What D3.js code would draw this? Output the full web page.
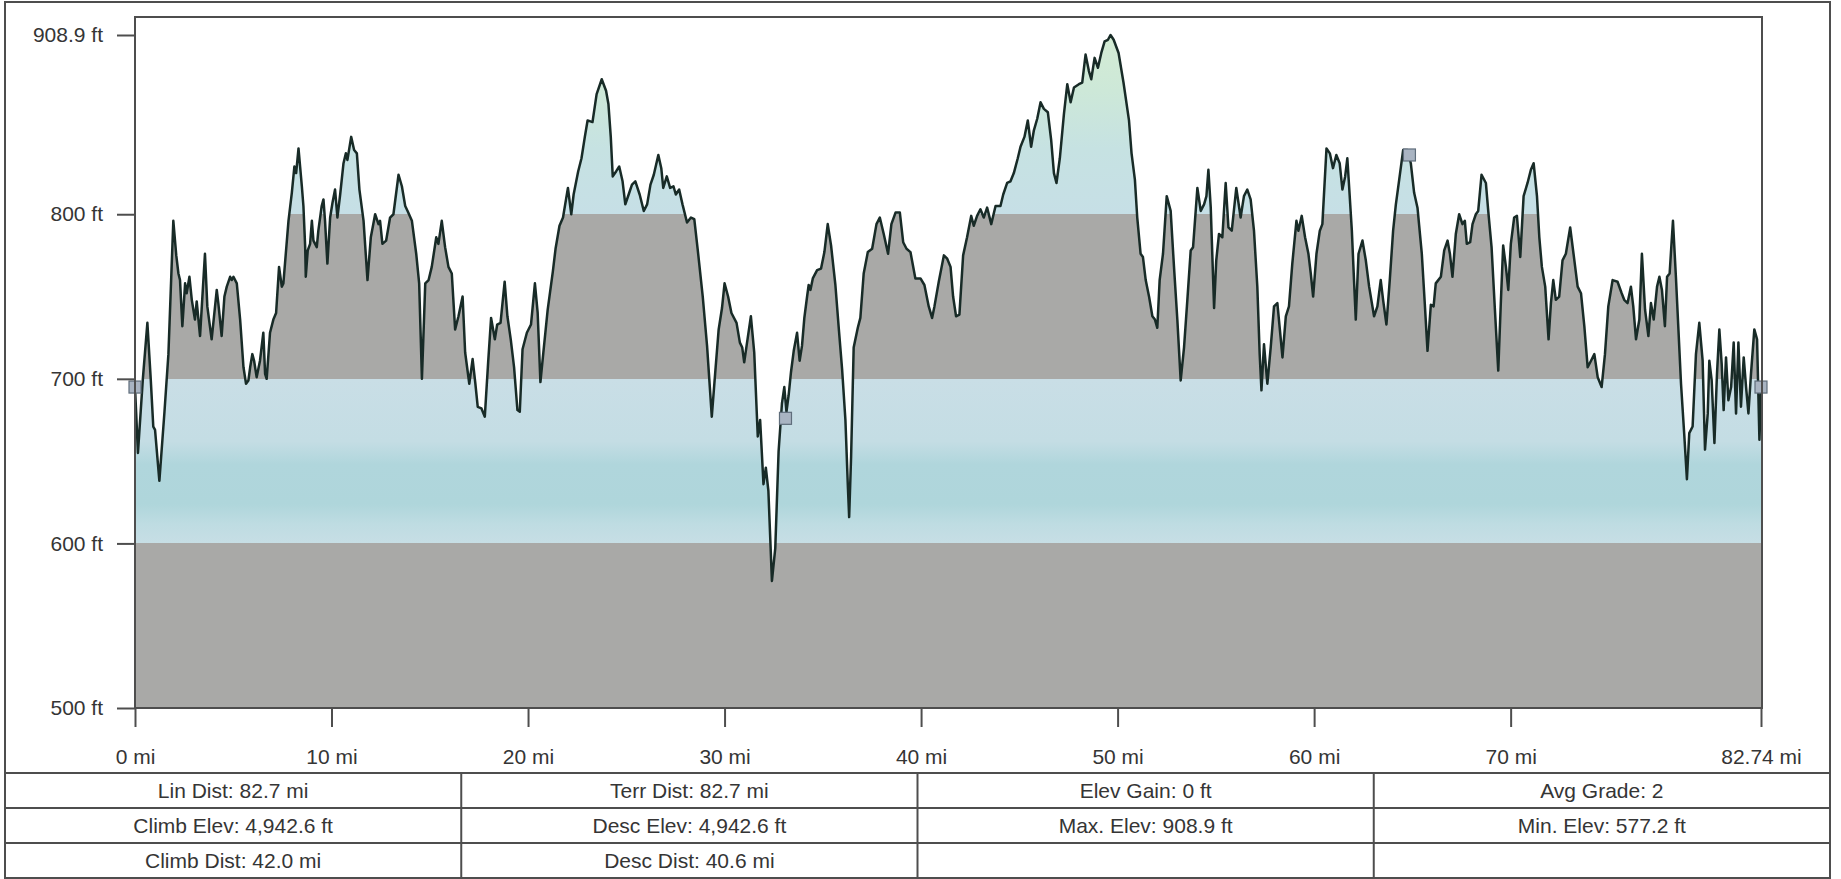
<!DOCTYPE html>
<html>
<head>
<meta charset="utf-8">
<script src="https://cdn.jsdelivr.net/npm/d3@7"></script>
<style>
  body { margin: 0; background: #fff; }
  svg text { font-family: "Liberation Sans", Arial, sans-serif; font-size: 21px; fill: #353535; }
</style>
</head>
<body>
<div id="profile"></div>
<script>
// elevation profile, distance in miles / elevation in feet
const distMi = [
  0.00, 0.15, 0.40, 0.63, 0.80, 0.93, 1.02, 1.24, 1.50, 1.70, 1.95, 2.10, 2.21, 2.29, 2.41, 2.55, 2.63, 2.77, 2.89, 3.05,
  3.14, 3.31, 3.39, 3.56, 3.68, 3.90, 4.16, 4.24, 4.41, 4.55, 4.67, 4.84, 4.92, 5.01, 5.18, 5.35, 5.52, 5.65, 5.77, 5.86,
  5.97, 6.06, 6.19, 6.36, 6.53, 6.62, 6.70, 6.87, 7.04, 7.18, 7.33, 7.47, 7.55, 7.81, 7.98, 8.11, 8.20, 8.32, 8.49, 8.57,
  8.66, 8.69, 8.79, 8.91, 9.00, 9.08, 9.25, 9.33, 9.50, 9.59, 9.67, 9.79, 9.93, 10.05, 10.18, 10.30, 10.44, 10.61, 10.73, 10.81,
  11.00, 11.15, 11.29, 11.42, 11.63, 11.83, 12.00, 12.22, 12.39, 12.47, 12.59, 12.78, 12.98, 13.15, 13.41, 13.58, 13.75, 13.87, 14.09, 14.31,
  14.46, 14.60, 14.77, 14.94, 15.10, 15.33, 15.44, 15.61, 15.78, 15.95, 16.12, 16.29, 16.46, 16.67, 16.80, 17.01, 17.18, 17.32, 17.44, 17.63,
  17.80, 17.97, 18.12, 18.31, 18.43, 18.60, 18.81, 18.95, 19.12, 19.29, 19.46, 19.58, 19.72, 19.94, 20.15, 20.35, 20.49, 20.63, 20.78, 21.00,
  21.26, 21.40, 21.60, 21.78, 22.03, 22.20, 22.32, 22.55, 22.72, 22.89, 23.03, 23.28, 23.49, 23.75, 23.97, 24.09, 24.21, 24.31, 24.48, 24.64,
  24.81, 24.95, 25.12, 25.29, 25.46, 25.68, 25.89, 26.06, 26.23, 26.40, 26.63, 26.78, 26.88, 27.06, 27.23, 27.40, 27.52, 27.69, 27.86, 28.09,
  28.29, 28.46, 28.63, 28.89, 29.11, 29.35, 29.52, 29.70, 29.87, 30.00, 30.18, 30.35, 30.61, 30.78, 30.90, 31.00, 31.12, 31.34, 31.51, 31.69,
  31.81, 31.98, 32.10, 32.23, 32.41, 32.58, 32.75, 32.92, 33.04, 33.15, 33.26, 33.38, 33.52, 33.69, 33.82, 33.94, 34.06, 34.20, 34.28, 34.37,
  34.49, 34.71, 34.91, 35.08, 35.25, 35.42, 35.64, 35.81, 35.98, 36.15, 36.27, 36.34, 36.44, 36.57, 36.78, 36.91, 37.08, 37.29, 37.51, 37.73,
  37.90, 38.10, 38.32, 38.49, 38.70, 38.92, 39.09, 39.26, 39.46, 39.71, 39.97, 40.17, 40.39, 40.56, 40.68, 40.90, 41.16, 41.33, 41.50, 41.63,
  41.78, 41.95, 42.14, 42.34, 42.55, 42.68, 42.85, 43.02, 43.19, 43.36, 43.57, 43.79, 44.04, 44.18, 44.38, 44.55, 44.72, 44.92, 45.06, 45.26,
  45.43, 45.60, 45.74, 45.91, 46.08, 46.25, 46.45, 46.62, 46.76, 46.89, 47.06, 47.27, 47.44, 47.61, 47.78, 48.03, 48.20, 48.37, 48.54, 48.66,
  48.83, 49.00, 49.17, 49.34, 49.51, 49.64, 49.80, 50.05, 50.30, 50.58, 50.71, 50.88, 51.00, 51.17, 51.29, 51.43, 51.60, 51.77, 51.90, 52.02,
  52.14, 52.31, 52.50, 52.70, 52.87, 53.04, 53.21, 53.38, 53.55, 53.72, 53.84, 54.06, 54.23, 54.40, 54.52, 54.62, 54.74, 54.91, 55.02, 55.16,
  55.33, 55.50, 55.64, 55.81, 56.04, 56.26, 56.43, 56.60, 56.77, 56.94, 57.11, 57.23, 57.32, 57.45, 57.62, 57.79, 57.96, 58.13, 58.39, 58.56,
  58.72, 58.89, 59.10, 59.20, 59.37, 59.54, 59.71, 59.83, 59.95, 60.12, 60.29, 60.42, 60.63, 60.80, 60.96, 61.13, 61.30, 61.44, 61.58, 61.69,
  61.78, 61.92, 62.03, 62.12, 62.26, 62.46, 62.63, 62.80, 63.05, 63.22, 63.39, 63.51, 63.68, 63.85, 64.02, 64.16, 64.33, 64.53, 64.75, 64.92,
  65.09, 65.26, 65.48, 65.63, 65.77, 65.94, 66.08, 66.19, 66.45, 66.62, 66.79, 66.91, 67.04, 67.21, 67.38, 67.55, 67.67, 67.77, 67.94, 68.06,
  68.23, 68.35, 68.52, 68.74, 68.86, 69.03, 69.20, 69.37, 69.50, 69.62, 69.76, 69.88, 70.01, 70.18, 70.32, 70.49, 70.66, 70.86, 71.03, 71.17,
  71.34, 71.46, 71.59, 71.76, 71.93, 72.05, 72.17, 72.30, 72.47, 72.64, 72.81, 73.03, 73.20, 73.41, 73.58, 73.75, 73.92, 74.09, 74.26, 74.43,
  74.63, 74.80, 74.97, 75.19, 75.44, 75.65, 75.78, 75.95, 76.12, 76.24, 76.38, 76.55, 76.68, 76.84, 77.01, 77.14, 77.28, 77.45, 77.57, 77.70,
  77.85, 77.96, 78.09, 78.26, 78.41, 78.53, 78.67, 78.84, 78.97, 79.09, 79.26, 79.43, 79.60, 79.77, 79.89, 80.03, 80.11, 80.23, 80.37, 80.50,
  80.62, 80.74, 80.84, 80.96, 81.08, 81.22, 81.35, 81.47, 81.59, 81.72, 81.86, 81.98, 82.10, 82.23, 82.40, 82.54, 82.66, 82.74
];
const elevFt = [
  695, 655, 700, 734, 700, 671, 669, 638, 680, 715, 796, 775, 764, 760, 732, 758, 752, 762, 748, 736,
  747, 726, 742, 776, 744, 724, 754, 746, 726, 750, 756, 762, 760, 762, 758, 736, 707, 697, 699, 707,
  715, 711, 701, 711, 728, 703, 700, 728, 736, 740, 768, 756, 758, 796, 813, 829, 825, 840, 817, 805,
  780, 762, 778, 782, 796, 784, 780, 790, 805, 809, 796, 770, 798, 807, 815, 798, 812, 831, 837, 833,
  847, 839, 837, 815, 796, 760, 786, 800, 794, 796, 782, 784, 798, 800, 824, 817, 805, 802, 796, 776,
  758, 700, 758, 760, 768, 786, 782, 796, 780, 768, 764, 730, 738, 750, 716, 697, 712, 697, 683, 682,
  677, 710, 737, 724, 733, 734, 759, 738, 724, 707, 681, 680, 718, 728, 733, 758, 740, 698, 716, 742,
  765, 779, 793, 798, 816, 800, 812, 826, 834, 847, 857, 856, 873, 882, 875, 867, 847, 823, 826, 829,
  820, 806, 812, 818, 820, 812, 802, 806, 818, 824, 836, 828, 816, 823, 816, 817, 812, 815, 806, 795,
  798, 797, 779, 750, 720, 677, 703, 730, 743, 758, 750, 740, 734, 722, 719, 710, 720, 738, 716, 665,
  675, 636, 646, 632, 577.2, 597, 656, 685, 695, 680, 690, 704, 717, 728, 711, 720, 737, 750, 757, 754,
  761, 766, 767, 777, 794, 781, 757, 731, 706, 675, 636, 616, 653, 719, 731, 737, 764, 777, 779, 794,
  798, 788, 776, 794, 801, 801, 783, 779, 777, 761, 761, 757, 744, 737, 744, 759, 775, 773, 768, 750,
  738, 739, 775, 786, 799, 793, 799, 803, 798, 804, 794, 805, 805, 812, 819, 820, 825, 834, 841, 847,
  857, 841, 851, 858, 868, 864, 862, 845, 825, 819, 834, 861, 879, 868, 877, 879, 880, 897, 887, 882,
  895, 889, 898, 905, 906, 908.9, 906, 898, 880, 857, 837, 821, 798, 776, 774, 760, 750, 738, 736, 731,
  760, 776, 811, 802, 768, 736, 699, 719, 748, 778, 780, 816, 802, 806, 811, 827, 804, 743, 772, 788,
  786, 819, 792, 790, 816, 798, 811, 815, 809, 790, 756, 715, 693, 721, 697, 719, 744, 746, 713, 738,
  744, 770, 796, 790, 799, 786, 776, 764, 750, 776, 790, 794, 840, 837, 828, 836, 831, 815, 823, 834,
  817, 790, 760, 736, 776, 784, 772, 756, 738, 744, 760, 748, 733, 760, 790, 806, 821, 839, 839, 831,
  813, 804, 776, 746, 717, 745, 744, 758, 762, 778, 784, 776, 762, 788, 800, 794, 796, 782, 783, 794,
  800, 802, 824, 819, 802, 780, 742, 705, 746, 781, 768, 754, 782, 798, 799, 774, 811, 819, 827, 831,
  811, 786, 768, 756, 724, 746, 760, 748, 750, 772, 776, 792, 776, 756, 752, 732, 707, 711, 715, 701,
  695, 715, 744, 760, 759, 752, 748, 746, 756, 744, 724, 736, 776, 742, 726, 746, 736, 756, 762, 754,
  732, 762, 764, 796, 762, 732, 697, 665, 639, 667, 671, 715, 734, 711, 657, 679, 711, 699, 661, 703,
  730, 709, 681, 713, 687, 695, 722, 679, 722, 683, 713, 695, 679, 703, 730, 724, 663, 692
];

const xTicks = [0, 10, 20, 30, 40, 50, 60, 70, 82.74];
const xTickLabels = ["0 mi", "10 mi", "20 mi", "30 mi", "40 mi", "50 mi", "60 mi", "70 mi", "82.74 mi"];
const yTicks = [500, 600, 700, 800, 908.9];
const yTickLabels = ["500 ft", "600 ft", "700 ft", "800 ft", "908.9 ft"];

// waypoint markers
const waypointMi = [0, 33.1, 64.85, 82.74];
const waypointFt = [695, 676, 836, 695];

// summary table below the chart
const statRows = [
  ["Lin Dist: 82.7 mi", "Terr Dist: 82.7 mi", "Elev Gain: 0 ft", "Avg Grade: 2"],
  ["Climb Elev: 4,942.6 ft", "Desc Elev: 4,942.6 ft", "Max. Elev: 908.9 ft", "Min. Elev: 577.2 ft"],
  ["Climb Dist: 42.0 mi", "Desc Dist: 40.6 mi", "", ""]
];

const W = 1841, H = 879;
const frame = {left: 5, top: 2, right: 1830, bottom: 878};
const plot = {left: 135, top: 17, right: 1762, bottom: 708};
const tableTop = 773, rowH = 35;

const svg = d3.select("#profile").append("svg")
    .attr("width", W).attr("height", H);

const x = d3.scaleLinear().domain([0, 82.74]).range([135, 1761]);
const y = d3.scaleLinear().domain([500, 908.9]).range([708, 35]);

const pts = distMi.map((d, i) => [d, elevFt[i]]);

// band colours by elevation (gray / blue alternating)
const bandStops = [
  [500, "#a9a9a7"], [600, "#a9a9a7"],
  [600, "#c7dee5"], [612, "#bedce2"], [624, "#afd6db"], [648, "#b0d6dc"], [662, "#c4dde4"], [700, "#c9dee6"],
  [700, "#a9a9a7"], [800, "#a9a9a7"],
  [800, "#c6dfe6"], [840, "#c6e2e2"], [875, "#cde8d8"], [920, "#d6edd2"]
];
const grad = svg.append("defs").append("linearGradient")
    .attr("id", "bands")
    .attr("gradientUnits", "userSpaceOnUse")
    .attr("x1", 0).attr("x2", 0)
    .attr("y1", y(500)).attr("y2", y(920));
grad.selectAll("stop").data(bandStops).enter().append("stop")
    .attr("offset", d => (d[0] - 500) / 420)
    .attr("stop-color", d => d[1]);

// filled profile
svg.append("path")
    .datum(pts)
    .attr("fill", "url(#bands)")
    .attr("d", d3.area().x(d => x(d[0])).y0(y(500)).y1(d => y(d[1])));

svg.append("path")
    .datum(pts)
    .attr("fill", "none")
    .attr("stroke", "#182b27")
    .attr("stroke-width", 2.5)
    .attr("stroke-linejoin", "round")
    .attr("d", d3.line().x(d => x(d[0])).y(d => y(d[1])));

// waypoints
svg.selectAll(".wp")
    .data(waypointMi)
    .enter().append("rect")
        .attr("x", (d) => x(d) - 6)
        .attr("y", (d, i) => y(waypointFt[i]) - 6)
        .attr("width", 12).attr("height", 12)
        .attr("fill", "#a9b4c2").attr("stroke", "#5f6d7b").attr("stroke-width", 1.2);

// plot frame
svg.append("rect")
    .attr("x", plot.left).attr("y", plot.top)
    .attr("width", plot.right - plot.left).attr("height", plot.bottom - plot.top)
    .attr("fill", "none").attr("stroke", "#4e4e4e").attr("stroke-width", 2);

// y axis
const yAxis = svg.append("g")
    .attr("transform", `translate(${plot.left},0)`)
    .call(d3.axisLeft(y).tickValues(yTicks).tickSize(18).tickPadding(14)
        .tickFormat((d, i) => yTickLabels[i]));
yAxis.select(".domain").remove();
yAxis.selectAll("line").attr("stroke", "#4e4e4e").attr("stroke-width", 2);
yAxis.selectAll("text").attr("font-size", null).attr("font-family", null).attr("fill", null);

// x axis
const xAxis = svg.append("g")
    .attr("transform", `translate(0,${plot.bottom})`)
    .call(d3.axisBottom(x).tickValues(xTicks).tickSize(19).tickPadding(22)
        .tickFormat((d, i) => xTickLabels[i]));
xAxis.select(".domain").remove();
xAxis.selectAll("line").attr("stroke", "#4e4e4e").attr("stroke-width", 2);
xAxis.selectAll("text").attr("font-size", null).attr("font-family", null).attr("fill", null);

// outer frame and table grid
const grid = svg.append("g").attr("stroke", "#4e4e4e").attr("stroke-width", 2);
grid.append("rect")
    .attr("x", frame.left).attr("y", frame.top)
    .attr("width", frame.right - frame.left).attr("height", frame.bottom - frame.top)
    .attr("fill", "none");

const colW = (frame.right - frame.left) / 4;
d3.range(statRows.length).forEach(r => {
    grid.append("line")
        .attr("x1", frame.left).attr("x2", frame.right)
        .attr("y1", tableTop + r * rowH).attr("y2", tableTop + r * rowH);
});
d3.range(1, 4).forEach(c => {
    grid.append("line")
        .attr("x1", frame.left + c * colW).attr("x2", frame.left + c * colW)
        .attr("y1", tableTop).attr("y2", frame.bottom);
});

statRows.forEach((row, r) => {
    svg.selectAll(".stat-" + r)
        .data(row)
        .enter().append("text")
            .attr("x", (d, c) => frame.left + c * colW + colW / 2)
            .attr("y", tableTop + r * rowH + rowH / 2 + 7)
            .attr("text-anchor", "middle")
            .text(d => d);
});
</script>
</body>
</html>
